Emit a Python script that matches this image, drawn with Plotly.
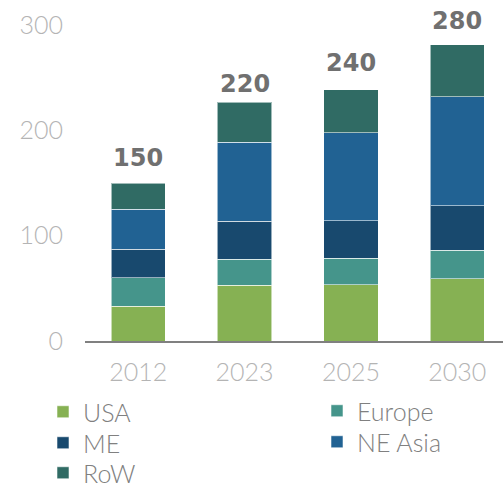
import plotly.graph_objects as go

years = ["2012", "2023", "2025", "2030"]
usa = [33, 53, 53.6, 59.3]
europe = [27, 24.5, 25, 26.9]
me = [27, 36, 35.8, 42.1]
ne_asia = [38, 75, 83.3, 103.7]
row = [25, 38, 40.6, 49.4]
totals = [150, 220, 240, 280]

series_names = ["USA", "Europe", "ME", "NE Asia", "RoW"]
series_values = [usa, europe, me, ne_asia, row]
series_colors = ["#86b153", "#45958b", "#18496e", "#216293", "#306b64"]
# legend slot (left x of legend box, vertical centre) in pixels for each series
legend_slots = [(43, 412), (317, 411), (43, 443), (317, 442), (43, 473)]

W, H = 503, 483
ML, MR, MT, MB = 85, 0, 25, 142
PW, PH = W - ML - MR, H - MT - MB

light = "Lato"
legend_font = dict(family=light, size=25, color="#808080", weight=300)
tick_font = dict(family=light, size=25, color="#b4b4b4", weight=300)

fig = go.Figure()
legend_layout = {}
for k, (name, vals, col, slot) in enumerate(zip(series_names, series_values,
                                                 series_colors, legend_slots)):
    lid = "legend" if k == 0 else f"legend{k + 1}"
    fig.add_trace(go.Bar(
        x=years, y=vals, name=name, legend=lid,
        marker=dict(color=col, line=dict(color="rgba(255,255,255,0.55)", width=1)),
    ))
    legend_layout[lid] = dict(
        orientation="v", xref="paper", yref="paper",
        x=(slot[0] - ML) / PW, xanchor="left",
        y=(H - MB - slot[1]) / PH, yanchor="middle",
        font=legend_font, bgcolor="rgba(0,0,0,0)")

for i, t in enumerate(totals):
    fig.add_annotation(x=i, y=t, xref="x", yref="y", text=f"<b>{t}</b>",
                       showarrow=False, yanchor="middle", yshift=25,
                       font=dict(family="DejaVu Sans", size=24, color="#707070"))

fig.update_layout(
    width=W, height=H,
    barmode="stack", bargap=0.49,
    paper_bgcolor="white", plot_bgcolor="white",
    margin=dict(l=ML, r=MR, t=MT, b=MB, autoexpand=False),
    font=dict(family=light, size=22, color="#888888", weight=300),
    showlegend=True,
    xaxis=dict(type="category", range=[-0.5, 3.43], showline=True, linecolor="#808080",
               linewidth=2, showgrid=False, ticks="outside", ticklen=8,
               tickcolor="rgba(0,0,0,0)", tickfont=tick_font),
    yaxis=dict(range=[0, 300], tickvals=[0, 100, 200, 300], showgrid=False,
               zeroline=False, showline=False, ticks="outside", ticklen=16,
               tickcolor="rgba(0,0,0,0)", tickfont=tick_font),
    **legend_layout,
)

fig.write_html("out.html")
